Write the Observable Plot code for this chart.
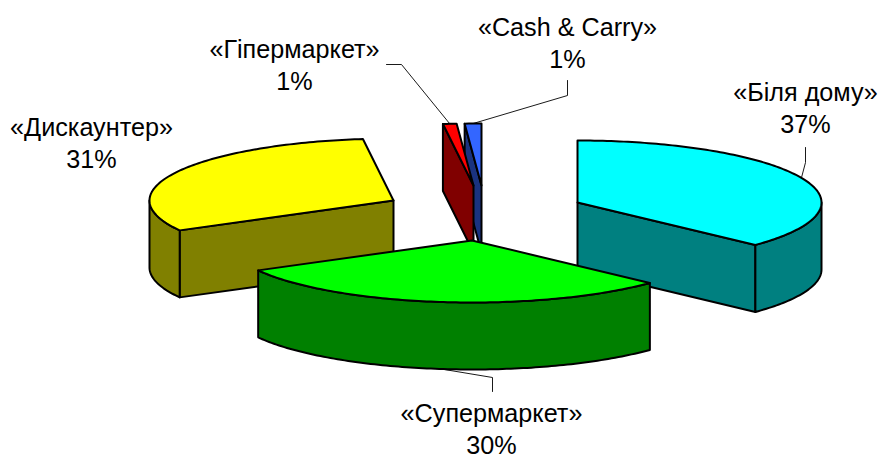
<!DOCTYPE html>
<html><head><meta charset="utf-8">
<script src="https://cdn.jsdelivr.net/npm/d3@7"></script>
<script src="https://cdn.jsdelivr.net/npm/@observablehq/plot@0.6"></script>
<style>html,body{margin:0;padding:0;background:#fff;overflow:hidden}svg{display:block}</style>
</head><body><div id="chart"></div>
<script>
// data (clockwise from 12 o'clock)
const names = ["«Біля дому»", "«Супермаркет»", "«Дискаунтер»", "«Гіпермаркет»", "«Cash & Carry»"];
const shares = [37, 30, 31, 0.9, 1.1];
const topColors = ["#00FFFF", "#00FF00", "#FFFF00", "#FF0000", "#3366FF"];
const sideColors = ["#008080", "#008000", "#808000", "#800000", "#1A3380"];

// 3-D projection and exploded layout
const rx = 244, ry = 62, depth = 67;
const centres = [[577, 202], [471.5, 240], [393, 200], [473, 185], [481, 185]];
const labelAt = [[805, 106], [491, 427], [91, 141], [294, 63], [567, 41]];
const elbows = [[[805, 162], [805, 147]], [[492, 377], [492, 391]], [], [[401, 64], [386, 64]], [[567, 95], [567, 80]]];
const drawOrder = [0, 2, 4, 3, 1];

const rad = d => d * Math.PI / 180;
const total = d3.sum(shares);
const cum = d3.cumsum(shares);
const spans = shares.map((s, i) => [(cum[i] - s) / total * 360, cum[i] / total * 360]);
const rim = (c, a, dz = 0) => [c[0] + rx * Math.sin(rad(a)), c[1] - ry * Math.cos(rad(a)) + dz];
const arc = (c, a0, a1, dz = 0) => {
  const n = Math.max(2, Math.ceil(Math.abs(a1 - a0)));
  return d3.range(n + 1).map(k => rim(c, a0 + (a1 - a0) * k / n, dz));
};
const closed = p => [...p, p[0]];

const shape = (pts, fill) => Plot.line(closed(pts), {
  x: d => d[0], y: d => d[1], fill, stroke: "#000", strokeWidth: 2,
  strokeLinejoin: "round", curve: "linear"
});

const slices = drawOrder.flatMap(i => {
  const c = centres[i], [a0, a1] = spans[i];
  const out = [];
  const faceAngle = a1 < 180 ? a1 : (a0 > 180 ? a0 : null);
  if (faceAngle != null) {
    out.push(shape([[c[0], c[1]], rim(c, faceAngle), rim(c, faceAngle, depth), [c[0], c[1] + depth]], sideColors[i]));
  }
  const w0 = Math.max(a0, 90), w1 = Math.min(a1, 270);
  if (w1 > w0) out.push(shape([...arc(c, w0, w1), ...arc(c, w1, w0, depth)], sideColors[i]));
  out.push(shape([[c[0], c[1]], ...arc(c, a0, a1)], topColors[i]));
  return out;
});

const leaders = names.map((_, i) => {
  if (!elbows[i].length) return null;
  const mid = (spans[i][0] + spans[i][1]) / 2;
  const onBottom = mid > 90 && mid < 270;
  return Plot.line([rim(centres[i], mid, onBottom ? depth : 0), ...elbows[i]], {
    x: d => d[0], y: d => d[1], stroke: "#000", strokeWidth: 0.9, curve: "linear"
  });
}).filter(Boolean);

const labels = names.map((n, i) => ({
  text: n + "\n" + Math.round(shares[i]) + "%", x: labelAt[i][0], y: labelAt[i][1]
}));

const plot = Plot.plot({
  width: 879, height: 456, margin: 0,
  style: {background: "#fff"},
  x: {domain: [0, 879], range: [0, 879], axis: null},
  y: {domain: [0, 456], range: [0, 456], axis: null},
  marks: [
    ...leaders,
    ...slices,
    Plot.text(labels, {
      x: "x", y: "y", text: "text", fill: "#000", textAnchor: "middle",
      fontFamily: "Liberation Sans", fontSize: 25.2, lineHeight: 1.27, lineAnchor: "middle"
    })
  ]
});
document.getElementById("chart").append(plot);
</script></body></html>
